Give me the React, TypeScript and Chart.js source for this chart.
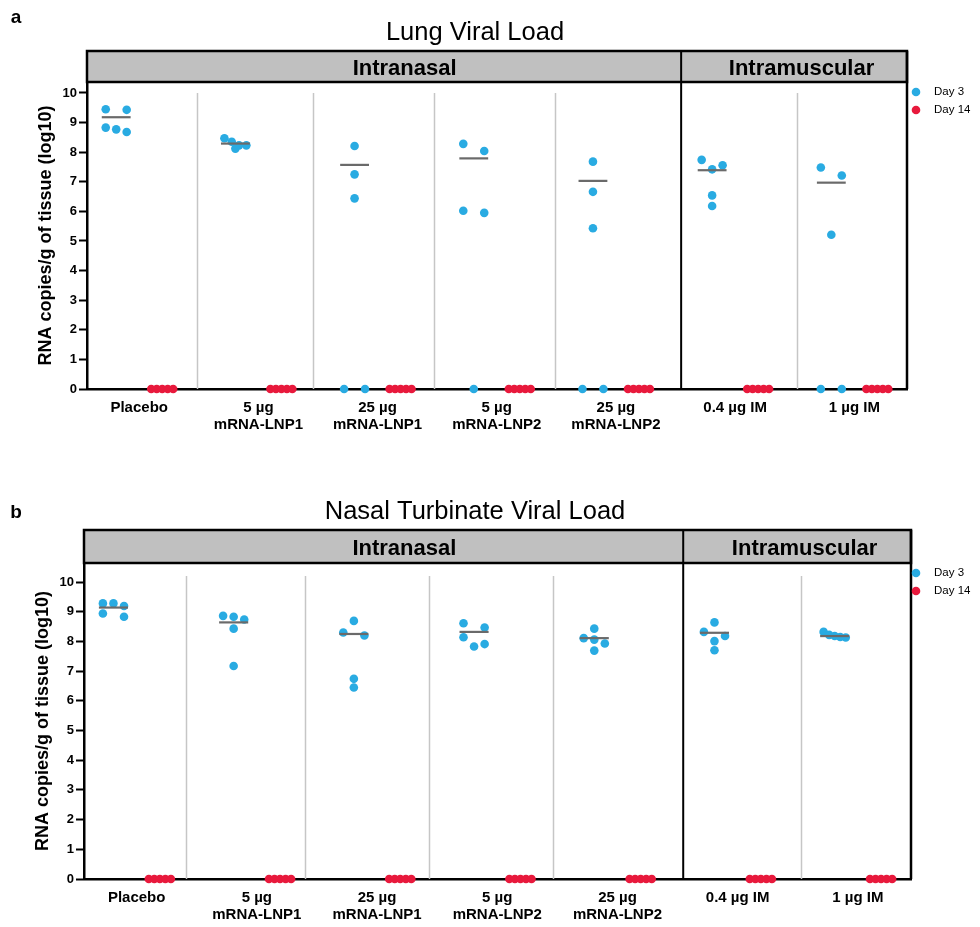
import React, { useEffect, useRef } from "react";
import { Chart, registerables } from "chart.js";

Chart.register(...registerables);

// ---------------- DATA ----------------
const CATEGORIES: string[][] = [
  ["Placebo"],
  ["5 µg", "mRNA-LNP1"],
  ["25 µg", "mRNA-LNP1"],
  ["5 µg", "mRNA-LNP2"],
  ["25 µg", "mRNA-LNP2"],
  ["0.4 µg IM"],
  ["1 µg IM"],
];
const ROUTES = ["Intranasal", "Intramuscular"];
const SERIES = ["Day 3", "Day 14"];
const Y_TICKS = [0, 1, 2, 3, 4, 5, 6, 7, 8, 9, 10];

// Lung viral load (log10 RNA copies/g)
const LUNG_DAY3: number[][] = [
  [8.68, 9.45, 8.83, 9.43, 8.77],
  [8.47, 8.12, 8.35, 8.23, 8.23],
  [8.21, 7.25, 6.44, 0, 0],
  [8.28, 8.04, 6.02, 5.95, 0],
  [7.68, 6.66, 5.43, 0, 0],
  [7.74, 7.42, 7.56, 6.54, 6.18],
  [7.48, 7.21, 5.21, 0, 0],
];
const LUNG_DAY14: number[][] = [
  [0, 0, 0, 0, 0],
  [0, 0, 0, 0, 0],
  [0, 0, 0, 0, 0],
  [0, 0, 0, 0, 0],
  [0, 0, 0, 0, 0],
  [0, 0, 0, 0, 0],
  [0, 0, 0, 0, 0],
];
const LUNG_DAY3_MEAN = [9.18, 8.29, 7.57, 7.79, 7.03, 7.39, 6.97];

// Nasal turbinate viral load
const NASAL_DAY3: number[][] = [
  [9.28, 8.83, 9.19, 9.28, 8.94],
  [8.83, 8.86, 8.74, 8.43, 7.17],
  [8.69, 8.2, 8.3, 6.74, 6.45],
  [8.47, 8.61, 8.14, 7.83, 7.91],
  [8.43, 8.11, 8.06, 7.93, 7.69],
  [8.64, 8.32, 8.18, 8.01, 7.7],
  [8.32, 8.15, 8.18, 8.22, 8.13],
];
const NASAL_DAY14: number[][] = [
  [0, 0, 0, 0, 0],
  [0, 0, 0, 0, 0],
  [0, 0, 0, 0, 0],
  [0, 0, 0, 0, 0],
  [0, 0, 0, 0, 0],
  [0, 0, 0, 0, 0],
  [0, 0, 0, 0, 0],
];
const NASAL_DAY3_MEAN = [9.14, 8.64, 8.25, 8.32, 8.11, 8.29, 8.18];

// ---------------- STYLE / LAYOUT ----------------
const FONT = '"Liberation Sans", Arial, Helvetica, sans-serif';
const BLUE = "#29ABE2";
const RED = "#E8193C";
const MEAN_COLOR = "#6a6a6a";
const SEP_COLOR = "#c6c6c6";
const STRIP_FILL = "#c0c0c0";
const DAY14_SHIFT = 0.386;
const LABEL_SHIFT = 0.193;
const MEAN_HALF = 0.121;
const PX_PER_X = 119.5;
const PX_PER_Y = 29.65;
const X_MIN = -0.245;
const X_MAX = 6.635;
const LEGEND_DOT_X = 908;
const LEGEND_TEXT_X = 926;

interface PanelCfg {
  letter: string;
  title: string;
  height: number;
  left: number;
  right: number;
  top: number;
  bottom: number;
  stripTop: number;
  yMax: number;
  sepTop: number;
  seps: number[];
  divider: number;
  routeCenters: number[];
  titleBaseline: number;
  letterBaseline: number;
  yTitlePad: number;
}

const PANEL_A: PanelCfg = {
  letter: "a",
  title: "Lung Viral Load",
  height: 462,
  left: 79,
  right: 899,
  top: 74,
  bottom: 381,
  stripTop: 43,
  yMax: 10.37,
  sepTop: 10,
  seps: [0.68, 1.65, 2.67, 3.68, 5.71],
  divider: 4.74,
  routeCenters: [2.42, 5.75],
  titleBaseline: 32,
  letterBaseline: 15,
  yTitlePad: 27,
};

const PANEL_B: PanelCfg = {
  letter: "b",
  title: "Nasal Turbinate Viral Load",
  height: 457,
  left: 76,
  right: 903,
  top: 93,
  bottom: 409,
  stripTop: 60,
  yMax: 10.64,
  sepTop: 10.2,
  seps: [0.6, 1.59, 2.625, 3.66, 5.72],
  divider: 4.74,
  routeCenters: [2.42, 5.75],
  titleBaseline: 49,
  letterBaseline: 48,
  yTitlePad: 24,
};

const CANVAS_W = 972;

// beeswarm-like horizontal spreading of nearly equal values
function swarm(values: number[], center: number) {
  const sorted = [...values].sort((a, b) => b - a);
  const rows: number[][] = [];
  for (const v of sorted) {
    const row = rows[rows.length - 1];
    if (row && (row[0] - v) * PX_PER_Y < 8.5) row.push(v);
    else rows.push([v]);
  }
  const pts: { x: number; y: number }[] = [];
  for (const row of rows) {
    const n = row.length;
    const step = n === 2 ? 21 : n > 2 ? Math.min(10.5, 22 / (n - 1)) : 0;
    row.forEach((v, k) => {
      pts.push({ x: center + ((k - (n - 1) / 2) * step) / PX_PER_X, y: v });
    });
  }
  return pts;
}

function makeDecor(cfg: PanelCfg) {
  return {
    id: "decor_" + cfg.letter,
    beforeDatasetsDraw(chart: any) {
      const { ctx, scales } = chart;
      const x = scales.x;
      const y = scales.y;
      ctx.save();
      ctx.strokeStyle = SEP_COLOR;
      ctx.lineWidth = 1.5;
      for (const s of cfg.seps) {
        const px = Math.round(x.getPixelForValue(s)) + 0.5;
        ctx.beginPath();
        ctx.moveTo(px, y.getPixelForValue(0));
        ctx.lineTo(px, y.getPixelForValue(cfg.sepTop));
        ctx.stroke();
      }
      ctx.restore();
    },
    afterDraw(chart: any) {
      const { ctx, chartArea: a, scales } = chart;
      const x = scales.x;
      ctx.save();
      // strip
      ctx.fillStyle = STRIP_FILL;
      ctx.fillRect(a.left, cfg.stripTop, a.right - a.left, a.top - cfg.stripTop);
      ctx.strokeStyle = "#000";
      ctx.lineWidth = 2.5;
      ctx.strokeRect(a.left, cfg.stripTop, a.right - a.left, a.top - cfg.stripTop);
      // right border
      ctx.beginPath();
      ctx.moveTo(a.right, cfg.stripTop);
      ctx.lineTo(a.right, a.bottom);
      ctx.stroke();
      // route divider
      const dx = x.getPixelForValue(cfg.divider);
      ctx.lineWidth = 2;
      ctx.beginPath();
      ctx.moveTo(dx, cfg.stripTop);
      ctx.lineTo(dx, a.bottom);
      ctx.stroke();
      // strip labels
      ctx.fillStyle = "#000";
      ctx.font = `bold 22px ${FONT}`;
      ctx.textAlign = "center";
      ctx.textBaseline = "middle";
      const sy = (cfg.stripTop + a.top) / 2 + 2;
      ROUTES.forEach((r, i) => {
        ctx.fillText(r, x.getPixelForValue(cfg.routeCenters[i]), sy);
      });
      // title
      ctx.textBaseline = "alphabetic";
      ctx.font = `25.5px ${FONT}`;
      ctx.fillText(cfg.title, 467, cfg.titleBaseline);
      // panel letter
      ctx.font = `bold 19px ${FONT}`;
      ctx.fillText(cfg.letter, 8, cfg.letterBaseline);
      // legend
      const colors = [BLUE, RED];
      ctx.textAlign = "left";
      ctx.textBaseline = "middle";
      ctx.font = `11.5px ${FONT}`;
      SERIES.forEach((s, i) => {
        const ly = a.top + 10 + i * 18;
        ctx.fillStyle = colors[i];
        ctx.beginPath();
        ctx.arc(LEGEND_DOT_X, ly, 4.3, 0, Math.PI * 2);
        ctx.fill();
        ctx.fillStyle = "#000";
        ctx.fillText(s, LEGEND_TEXT_X, ly);
      });
      ctx.restore();
    },
  };
}

function Panel({
  cfg,
  day3,
  day14,
  means,
  top,
}: {
  cfg: PanelCfg;
  day3: number[][];
  day14: number[][];
  means: number[];
  top: number;
}) {
  const ref = useRef<HTMLCanvasElement | null>(null);
  useEffect(() => {
    if (!ref.current) return;
    const meanSets = means.map((m, i) => ({
      label: "mean" + i,
      data: [
        { x: i - MEAN_HALF, y: m },
        { x: i + MEAN_HALF, y: m },
      ],
      showLine: true,
      borderColor: MEAN_COLOR,
      borderWidth: 2.2,
      pointRadius: 0,
      clip: false as any,
    }));
    const d3 = day3.flatMap((vals, i) => swarm(vals, i));
    const d14 = day14.flatMap((vals, i) => swarm(vals, i + DAY14_SHIFT));
    const chart = new Chart(ref.current, {
      type: "scatter",
      data: {
        datasets: [
          ...meanSets,
          {
            label: SERIES[0],
            data: d3,
            backgroundColor: BLUE,
            borderWidth: 0,
            pointRadius: 4.3,
            clip: false as any,
          },
          {
            label: SERIES[1],
            data: d14,
            backgroundColor: RED,
            borderWidth: 0,
            pointRadius: 4.3,
            clip: false as any,
          },
        ] as any,
      },
      options: {
        animation: false,
        responsive: false,
        events: [],
        layout: {
          padding: {
            left: 0,
            right: CANVAS_W - cfg.right,
            top: cfg.top,
            bottom: 0,
          },
        },
        plugins: {
          legend: { display: false },
          tooltip: { enabled: false },
          title: { display: false },
        },
        scales: {
          x: {
            type: "linear",
            min: X_MIN,
            max: X_MAX,
            grid: { display: false, drawTicks: false },
            border: { display: true, color: "#000", width: 2.5 },
            afterBuildTicks: (s: any) => {
              s.ticks = CATEGORIES.map((_, i) => ({ value: i + LABEL_SHIFT }));
            },
            afterFit: (s: any) => {
              s.height = cfg.height - cfg.bottom;
            },
            ticks: {
              autoSkip: false,
              maxRotation: 0,
              minRotation: 0,
              padding: 10,
              color: "#000",
              font: { family: FONT, size: 15, weight: "bold", lineHeight: 1.13 },
              callback: (_v: any, i: number) => CATEGORIES[i],
            },
          },
          y: {
            type: "linear",
            min: 0,
            max: cfg.yMax,
            grid: {
              display: true,
              drawOnChartArea: false,
              drawTicks: true,
              tickLength: 8,
              tickWidth: 2,
              tickColor: "#000",
            },
            border: { display: true, color: "#000", width: 2.5 },
            afterBuildTicks: (s: any) => {
              s.ticks = Y_TICKS.map((v) => ({ value: v }));
            },
            afterFit: (s: any) => {
              s.width = cfg.left;
            },
            ticks: {
              padding: 2,
              color: "#000",
              font: { family: FONT, size: 13, weight: "bold" },
            },
            title: {
              display: true,
              text: "RNA copies/g of tissue (log10)",
              color: "#000",
              font: { family: FONT, size: 18, weight: "bold" },
              padding: { top: cfg.yTitlePad, bottom: 0 },
            },
          },
        },
      } as any,
      plugins: [makeDecor(cfg)],
    });
    return () => chart.destroy();
  }, [cfg, day3, day14, means]);
  return (
    <canvas
      ref={ref}
      width={CANVAS_W}
      height={cfg.height}
      style={{ position: "absolute", left: 0, top, display: "block" }}
    />
  );
}

export default function App() {
  useEffect(() => {
    document.documentElement.style.overflow = "hidden";
    document.body.style.marginBottom = "0px";
  }, []);
  return (
    <div style={{ position: "relative", width: CANVAS_W, height: 919 }}>
      <Panel cfg={PANEL_A} day3={LUNG_DAY3} day14={LUNG_DAY14} means={LUNG_DAY3_MEAN} top={0} />
      <Panel cfg={PANEL_B} day3={NASAL_DAY3} day14={NASAL_DAY14} means={NASAL_DAY3_MEAN} top={462} />
    </div>
  );
}
